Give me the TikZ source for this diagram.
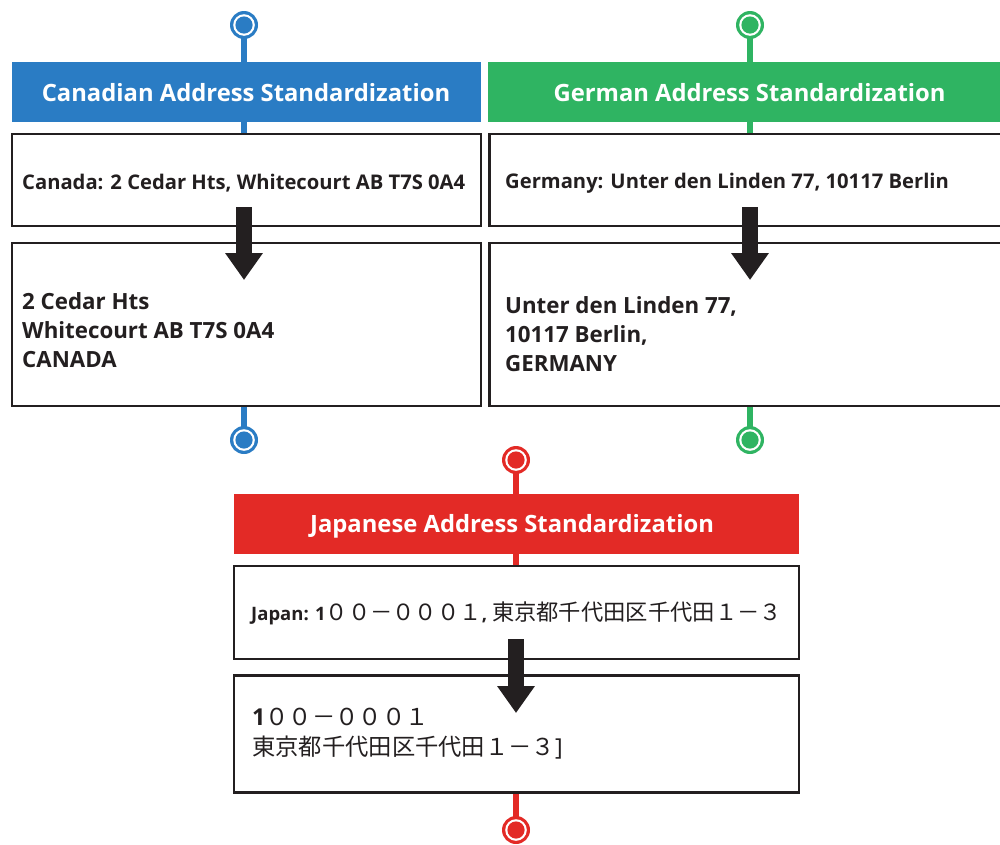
\documentclass[tikz,border=0pt]{standalone}
\usepackage{fontspec}
\setmainfont{Open Sans}
\newfontfamily\jp{Noto Sans CJK JP}
\usetikzlibrary{arrows.meta}
\definecolor{cblue}{HTML}{2A7CC4}
\definecolor{cgreen}{HTML}{2FB462}
\definecolor{cred}{HTML}{E32A26}
\definecolor{cdark}{HTML}{231F20}
\tikzset{
  header/.style={fill=#1, draw=none, inner sep=0pt, text=white, font=\bfseries\fontsize{23.8}{26}\selectfont},
  addrbox/.style={fill=white, draw=cdark, line width=2.5pt, inner sep=0pt},
  intext/.style={anchor=west, inner sep=0pt, text=cdark, font=\bfseries\fontsize{20.2}{22}\selectfont},
  outtext/.style={anchor=west, inner sep=0pt, text=cdark, align=left, font=\bfseries\fontsize{22.3}{29}\selectfont},
  stem/.style={draw=#1, line width=5.5pt},
  bigarrow/.style={draw=cdark, line width=16pt, -{Triangle[width=36pt,length=27pt]}},
}
\newcommand{\pin}[3]{%
  \fill[#3] (#1) circle[radius=14pt];
  \fill[white] (#1) circle[radius=10.8pt];
  \fill[#3] (#1) circle[radius=8.6pt];
  \coordinate (#2) at (#1);}
\begin{document}
\begin{tikzpicture}[x=1pt,y=-1pt]
\useasboundingbox (0,0) rectangle (1000,844);
% ---------- Canadian ----------
\coordinate (cat) at (244,25);
\coordinate (cab) at (244,440);
\draw[stem=cblue] (cat) -- (cab);
\pin{cat}{catop}{cblue}
\pin{cab}{cabot}{cblue}
\node[header=cblue, minimum width=469pt, minimum height=60pt] (cahead) at (246.5,92) {};
\node[text=white, font=\bfseries\fontsize{23.8}{26}\selectfont, inner sep=0pt] (caheadtxt) at (246,93) {Canadian Address Standardization};
\node[addrbox, minimum width=469pt, minimum height=92pt] (cain) at (246.5,180) {};
\node[addrbox, minimum width=469pt, minimum height=163pt] (caout) at (246.5,324.5) {};
\node[intext] (caintxt) at (22,183) {Canada: 2 Cedar Hts, Whitecourt AB T7S 0A4};
\node[outtext] (caouttxt) at (22,330) {2 Cedar Hts\\Whitecourt AB T7S 0A4\\CANADA};
\coordinate (caa1) at (244,207);
\coordinate (caa2) at (244,280);
\draw[bigarrow] (caa1) -- (caa2);
% ---------- German ----------
\coordinate (det) at (750,25);
\coordinate (deb) at (750,440);
\draw[stem=cgreen] (det) -- (deb);
\pin{det}{detop}{cgreen}
\pin{deb}{debot}{cgreen}
\node[header=cgreen, minimum width=540pt, minimum height=60pt, anchor=west] (dehead) at (488,92) {};
\node[text=white, font=\bfseries\fontsize{23.8}{26}\selectfont, inner sep=0pt] (deheadtxt) at (749.5,93) {German Address Standardization};
\node[addrbox, minimum width=540pt, minimum height=92pt, anchor=west] (dein) at (488,180) {};
\node[addrbox, minimum width=540pt, minimum height=163pt, anchor=west] (deout) at (488,324.5) {};
\node[intext] (deintxt) at (505,183) {Germany: Unter den Linden 77, 10117 Berlin};
\node[outtext] (deouttxt) at (505,334) {Unter den Linden 77,\\10117 Berlin,\\GERMANY};
\coordinate (dea1) at (750,207);
\coordinate (dea2) at (750,280);
\draw[bigarrow] (dea1) -- (dea2);
% ---------- Japanese ----------
\coordinate (jpt) at (516,460);
\coordinate (jpb) at (516,830);
\draw[stem=cred] (jpt) -- (jpb);
\pin{jpt}{jptop}{cred}
\pin{jpb}{jpbot}{cred}
\node[header=cred, minimum width=565pt, minimum height=60pt] (jphead) at (516.5,524) {};
\node[text=white, font=\bfseries\fontsize{23.8}{26}\selectfont, inner sep=0pt] (jpheadtxt) at (512,526) {Japanese Address Standardization};
\node[addrbox, minimum width=565pt, minimum height=93pt] (jpin) at (516.5,612.5) {};
\node[addrbox, minimum width=565pt, minimum height=117pt] (jpout) at (516.5,734) {};
\node[intext, font=\bfseries\fontsize{18.5}{22}\selectfont] (jpintxt) at (251,613) {Japan: 1{\mdseries\jp\fontsize{22.3}{24}\selectfont ００－０００１}, {\mdseries\jp\fontsize{22.3}{24}\selectfont 東京都千代田区千代田１－３}};
\node[outtext, font=\fontsize{23.3}{30}\selectfont] (jpouttxt) at (252,734) {\textbf{1}{\jp ００－０００１}\\{\jp 東京都千代田区千代田１－３}]};
\coordinate (jpa1) at (516,639);
\coordinate (jpa2) at (516,713);
\draw[bigarrow] (jpa1) -- (jpa2);
\end{tikzpicture}
\end{document}
